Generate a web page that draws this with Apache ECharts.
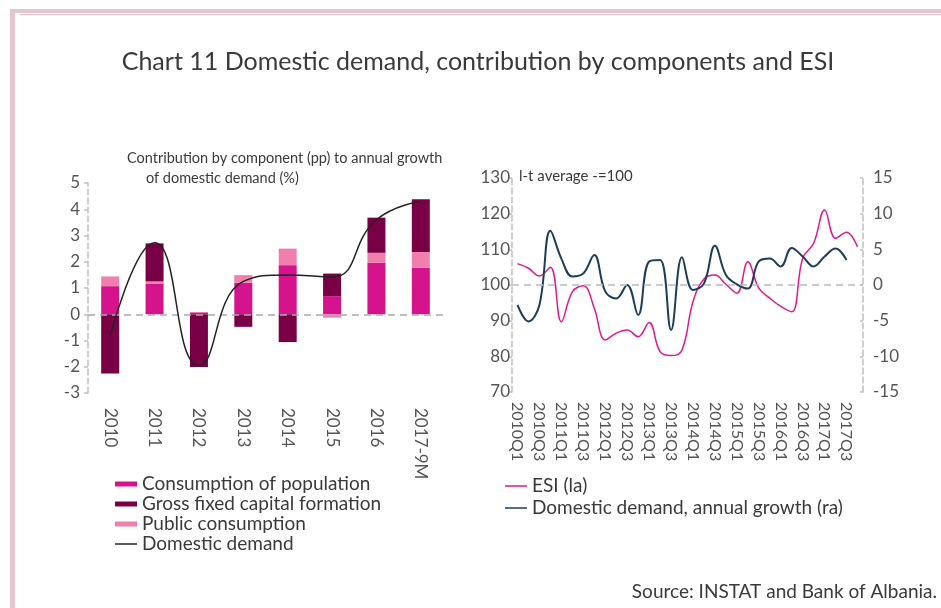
<!DOCTYPE html>
<html>
<head>
<meta charset="utf-8">
<script src="https://cdn.jsdelivr.net/npm/echarts@6/dist/echarts.min.js"></script>
<style>
  html, body { margin: 0; padding: 0; background: #fff; }
  #chart { width: 941px; height: 608px; }
</style>
</head>
<body>
<div id="chart"></div>
<script>
// left panel: contribution by component (pp)
var years = ['2010', '2011', '2012', '2013', '2014', '2015', '2016', '2017-9M'];
var consumption = [1.07, 1.17, 0.07, 1.2, 1.87, 0.69, 1.96, 1.77];
var publicCons = [0.37, 0.08, 0, 0.29, 0.63, -0.13, 0.38, 0.6];
var gfcf = [-2.26, 1.45, -2.01, -0.48, -1.06, 0.86, 1.34, 2.01];
var domDemand = [-0.82, 2.72, -1.95, 1.25, 1.5, 1.42, 3.6, 4.3];

// right panel: ESI and domestic demand growth, quarterly
var quarters = [];
for (var y = 2010; y <= 2017; y++) {
    for (var q = 1; q <= 4; q++) quarters.push(y + 'Q' + q);
}
var esi = [106.0, 104.7, 102.5, 105.0, 89.7, 98.1, 99.8, 93.5,
    84.6, 86.5, 87.4, 85.5, 89.5, 81.3, 80.2, 81.8,
    95.3, 101.7, 102.8, 100.2, 97.7, 106.5, 99.1, 96.3,
    94.0, 92.5, 107.5, 111.7, 121.0, 113.1, 114.8, 110.7];
var ddGrowth = [-2.8, -5.1, -2.8, 7.6, 3.7, 1.2, 1.6, 4.2,
    -0.9, -1.9, 0.0, -4.2, 3.3, 3.5, -6.3, 3.9,
    -0.7, 0.2, 5.5, 1.4, 0.1, -0.5, 3.3, 3.7,
    2.6, 5.2, 4.0, 2.6, 4.0, 5.1, 3.5];

var FONT = 'Lato';
var GREY = '#555';
var AXIS = '#c0c0c0';
var BORDER = '#e6c5d3';
var LINE_ICON = 'path://M0,0L22,0L22,1.5L0,1.5Z';

var chart = echarts.init(document.getElementById('chart'));

function txt(text, x, y, size, align) {
    return {
        type: 'text', x: x, y: y, silent: true,
        style: {
            text: text, fontSize: size, fontFamily: FONT, fill: '#3a3a3a',
            align: align, textAlign: align,
            verticalAlign: 'middle', textVerticalAlign: 'middle'
        }
    };
}

chart.setOption({
    animation: false,
    textStyle: { fontFamily: FONT },
    graphic: [
        { type: 'rect', shape: { x: 10, y: 9, width: 5, height: 599 }, style: { fill: BORDER } },
        { type: 'rect', shape: { x: 10, y: 9, width: 931, height: 4 }, style: { fill: BORDER } },
        { type: 'rect', shape: { x: 20, y: 14, width: 921, height: 1.2 }, style: { fill: BORDER } },
        txt('Chart 11 Domestic demand, contribution by components and ESI', 478, 62, 25, 'center'),
        txt('Contribution by component (pp) to annual growth', 127, 158, 14.5, 'left'),
        txt('of domestic demand (%)', 146, 178, 14.5, 'left'),
        txt('l-t average -=100', 519, 176, 15, 'left'),
        txt('Source: INSTAT and Bank of Albania.', 937, 592, 19, 'right')
    ],
    legend: [
        {
            orient: 'vertical', left: 110, top: 469,
            itemWidth: 22, itemHeight: 5, itemGap: 0,
            textStyle: { fontSize: 19, color: '#3a3a3a', lineHeight: 20, fontFamily: FONT },
            data: [
                { name: 'Consumption of population', icon: 'rect' },
                { name: 'Gross fixed capital formation', icon: 'rect' },
                { name: 'Public consumption', icon: 'rect' },
                { name: 'Domestic demand', icon: LINE_ICON }
            ]
        },
        {
            orient: 'vertical', left: 500, top: 470,
            itemWidth: 22, itemHeight: 5, itemGap: 0,
            textStyle: { fontSize: 19, color: '#3a3a3a', lineHeight: 22, fontFamily: FONT },
            data: [
                { name: 'ESI (la)', icon: LINE_ICON },
                { name: 'Domestic demand, annual growth (ra)', icon: LINE_ICON }
            ]
        }
    ],
    grid: [
        { left: 88, top: 183, width: 355, height: 210 },
        { left: 512, top: 178, width: 351, height: 214 }
    ],
    xAxis: [
        {
            type: 'category', gridIndex: 0, data: years,
            axisLine: { show: false }, axisTick: { show: false },
            axisLabel: { rotate: -90, margin: 15, fontSize: 17, color: GREY, interval: 0 }
        },
        {
            type: 'category', gridIndex: 1, data: quarters,
            axisLine: { show: false }, axisTick: { show: false },
            axisLabel: { rotate: -90, margin: 10, fontSize: 16, color: GREY, interval: 1 }
        }
    ],
    yAxis: [
        {
            type: 'value', gridIndex: 0, min: -3, max: 5, interval: 1,
            splitLine: { show: false },
            axisLine: { show: true, lineStyle: { color: AXIS, width: 1.5, type: 'dashed' } },
            axisTick: { show: true, length: 4, lineStyle: { color: AXIS, width: 1.5 } },
            axisLabel: { fontSize: 17, color: GREY, margin: 8 }
        },
        {
            type: 'value', gridIndex: 1, min: 70, max: 130, interval: 10,
            splitLine: { show: false },
            axisLine: { show: true, lineStyle: { color: AXIS, width: 1.5, type: 'dashed' } },
            axisTick: { show: true, length: 3, lineStyle: { color: AXIS, width: 1.5 } },
            axisLabel: { fontSize: 17, color: GREY, margin: 2 }
        },
        {
            type: 'value', gridIndex: 1, position: 'right', min: -15, max: 15, interval: 5,
            splitLine: { show: false },
            axisLine: { show: true, lineStyle: { color: AXIS, width: 1.5, type: 'dashed' } },
            axisTick: { show: true, length: 3, inside: true, lineStyle: { color: AXIS, width: 1.5 } },
            axisLabel: { fontSize: 17, color: GREY, margin: 10 }
        }
    ],
    series: [
        {
            name: 'Consumption of population', type: 'bar', stack: 'c',
            xAxisIndex: 0, yAxisIndex: 0, barWidth: 18,
            itemStyle: { color: '#d4138c' }, data: consumption,
            markLine: {
                silent: true, symbol: 'none', label: { show: false },
                lineStyle: { color: '#aaa', type: [7, 5], width: 1.5 },
                data: [{ yAxis: 0 }]
            }
        },
        {
            name: 'Public consumption', type: 'bar', stack: 'c',
            xAxisIndex: 0, yAxisIndex: 0, barWidth: 18,
            itemStyle: { color: '#f07fae' }, data: publicCons
        },
        {
            name: 'Gross fixed capital formation', type: 'bar', stack: 'c',
            xAxisIndex: 0, yAxisIndex: 0, barWidth: 18,
            itemStyle: { color: '#7a0046' }, data: gfcf
        },
        {
            name: 'Domestic demand', type: 'line', smooth: 0.5,
            xAxisIndex: 0, yAxisIndex: 0, symbol: 'none',
            lineStyle: { color: '#222', width: 1.5 }, itemStyle: { color: '#222' },
            data: domDemand, z: 5
        },
        {
            name: 'ESI (la)', type: 'line', smooth: 0.4,
            xAxisIndex: 1, yAxisIndex: 1, symbol: 'none',
            lineStyle: { color: '#e0198c', width: 1.5 }, itemStyle: { color: '#e0198c' },
            data: esi,
            markLine: {
                silent: true, symbol: 'none', label: { show: false },
                lineStyle: { color: '#bbb', type: [7, 5], width: 1.5 },
                data: [{ yAxis: 100 }]
            }
        },
        {
            name: 'Domestic demand, annual growth (ra)', type: 'line', smooth: 0.4,
            xAxisIndex: 1, yAxisIndex: 2, symbol: 'none',
            lineStyle: { color: '#1d3d5e', width: 2 }, itemStyle: { color: '#1d3d5e' },
            data: ddGrowth
        }
    ]
});
</script>
</body>
</html>
